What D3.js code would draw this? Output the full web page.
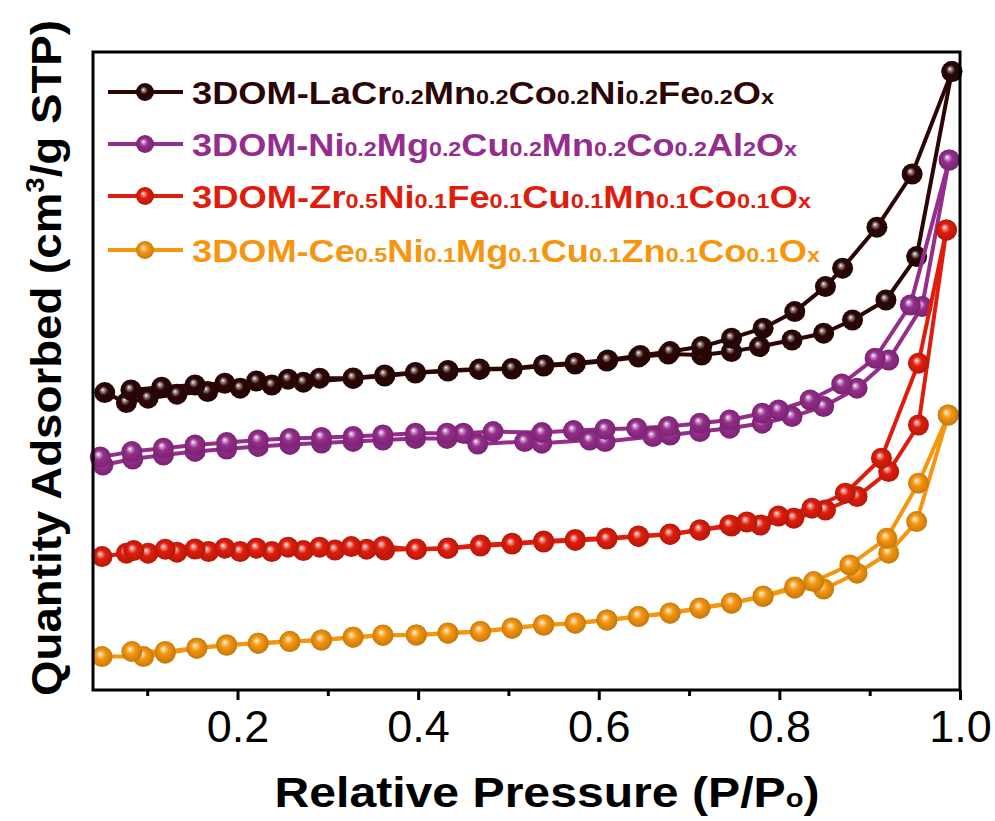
<!DOCTYPE html>
<html>
<head>
<meta charset="utf-8">
<script src="https://cdn.jsdelivr.net/npm/d3@7"></script>
<style>
  html, body { margin: 0; padding: 0; background: #fff; }
  #chart { width: 995px; height: 821px; }
  text { font-family: "Liberation Sans", Arial, sans-serif; }
</style>
</head>
<body>
<div id="chart"></div>
<script>
// legend labels: "|" separates normal text and subscript parts (odd parts are subscripts)
const seriesNames = [
  "3DOM-LaCr|0.2|Mn|0.2|Co|0.2|Ni|0.2|Fe|0.2|O|x",
  "3DOM-Ni|0.2|Mg|0.2|Cu|0.2|Mn|0.2|Co|0.2|Al|2|O|x",
  "3DOM-Zr|0.5|Ni|0.1|Fe|0.1|Cu|0.1|Mn|0.1|Co|0.1|O|x",
  "3DOM-Ce|0.5|Ni|0.1|Mg|0.1|Cu|0.1|Zn|0.1|Co|0.1|O|x"
];
const seriesColors = ["#2c0606", "#952d8c", "#e01d0c", "#f6960e"];
const majorTicks = [0.2, 0.4, 0.6, 0.8, 1.0];
const minorTicks = [0.1, 0.3, 0.5, 0.7, 0.9];

// [P/P0, quantity adsorbed (arb. offset units)]
const laAds = [[0.053,148.7],[0.077,143.7],[0.101,145.9],[0.133,147.9],[0.167,149.2],[0.203,150.9],[0.238,152.5],[0.273,153.9],[0.328,155.8],[0.363,157],[0.397,158.5],[0.433,159.5],[0.468,160.3],[0.504,160.5],[0.539,162],[0.574,163],[0.609,164.5],[0.644,166.5],[0.677,168],[0.714,167.5],[0.747,169.2],[0.778,171.7],[0.814,175],[0.849,178.4],[0.881,185],[0.918,195],[0.952,216.7],[0.991,309.2]];
const laDes = [[0.991,309.2],[0.947,258],[0.908,231.4],[0.870,210.9],[0.851,201.7],[0.817,189.2],[0.782,180.9],[0.747,175.9],[0.714,171.7],[0.679,169.2],[0.646,167.3],[0.610,165],[0.574,163.5],[0.539,162.5],[0.504,160.8],[0.468,160.5],[0.433,159.8],[0.397,158.8],[0.363,157.5],[0.328,156],[0.291,155.9],[0.256,155.4],[0.221,154.5],[0.186,153.4],[0.153,152.5],[0.116,151.4],[0.082,150]];

const niAds = [[0.051,112.5],[0.084,115.5],[0.118,117.5],[0.153,119.3],[0.188,120.5],[0.223,121.8],[0.258,122.8],[0.293,123.5],[0.328,124.3],[0.361,125],[0.397,125.8],[0.432,125.8],[0.466,123],[0.518,124.2],[0.537,123.4],[0.590,125],[0.607,124.2],[0.660,126.7],[0.679,127.5],[0.712,129.2],[0.745,130.9],[0.781,133.4],[0.814,136.7],[0.849,141.7],[0.886,150.9],[0.921,165],[0.958,191.7],[0.988,265]];
const niDes = [[0.988,265],[0.945,192.5],[0.906,165.9],[0.869,153],[0.834,145],[0.799,140],[0.781,138.4],[0.745,135],[0.712,133.4],[0.677,131.7],[0.642,130.9],[0.607,130.4],[0.572,129.7],[0.537,128.7],[0.483,129.2],[0.450,128.4],[0.432,128.4],[0.397,128.4],[0.361,127.5],[0.328,126.8],[0.293,126.3],[0.258,125.8],[0.223,125],[0.188,123.7],[0.153,122.5],[0.118,120.9],[0.083,119.2],[0.048,116.5]];

const zrAds = [[0.050,66.7],[0.077,68.4],[0.101,68.4],[0.133,68.9],[0.168,69.2],[0.203,69.2],[0.238,69.2],[0.273,69.7],[0.308,70],[0.343,70.4],[0.363,70],[0.398,70.5],[0.433,71],[0.469,72.5],[0.504,73.4],[0.539,74.5],[0.574,75.3],[0.609,76],[0.644,77],[0.679,78],[0.712,80],[0.747,82],[0.779,82.5],[0.816,85.9],[0.851,90],[0.886,96.7],[0.921,109.2],[0.954,132.5],[0.985,230]];
const zrDes = [[0.985,230],[0.954,163.4],[0.913,115.9],[0.873,98.4],[0.836,90.9],[0.799,87],[0.764,84],[0.745,82.5],[0.712,80],[0.679,77.8],[0.644,76.8],[0.609,75.5],[0.574,74.8],[0.539,74],[0.504,73],[0.469,72],[0.433,70.8],[0.398,70.3],[0.361,71.7],[0.326,71.7],[0.291,71.4],[0.256,71.4],[0.221,70.9],[0.186,70.9],[0.153,70.5],[0.120,70.4],[0.085,69.7]];

const ceAds = [[0.050,16.7],[0.096,16.7],[0.120,18.4],[0.155,20.9],[0.188,22.5],[0.223,23.4],[0.258,24.2],[0.293,25],[0.328,26.4],[0.361,27.3],[0.398,27.5],[0.433,28.4],[0.469,29.2],[0.504,30.9],[0.539,32.5],[0.574,33.4],[0.609,35],[0.644,36.7],[0.679,38.4],[0.712,40.9],[0.747,43.4],[0.782,46.7],[0.817,50.9],[0.849,50.5],[0.886,58.4],[0.921,68.4],[0.952,84.2],[0.987,137.5]];
const ceDes = [[0.987,137.5],[0.954,103.4],[0.919,75.9],[0.878,62.5],[0.838,54.2],[0.817,51.5],[0.782,47],[0.747,43.5],[0.712,41],[0.679,38.5],[0.644,36.8],[0.609,35],[0.574,33.5],[0.539,32.5],[0.504,31],[0.469,29.3],[0.433,28.5],[0.398,27.5],[0.361,27.5],[0.328,26.4],[0.293,25],[0.258,24.2],[0.223,23.4],[0.188,22.5],[0.155,20.9],[0.120,19.3],[0.083,19.2]];

const seriesData = [
  { ads: laAds, des: laDes },
  { ads: niAds, des: niDes },
  { ads: zrAds, des: zrDes },
  { ads: ceAds, des: ceDes }
];

function renderIsotherm() {
  const width = 995, height = 821;
  const margin = { top: 52, right: 35, bottom: 131, left: 93 };
  const innerW = width - margin.left - margin.right;
  const innerH = height - margin.top - margin.bottom;

  const svg = d3.select("#chart").append("svg")
    .attr("width", width).attr("height", height);

  const defs = svg.append("defs");
  seriesColors.forEach((c, i) => {
    const grad = defs.append("radialGradient")
      .attr("id", "ball" + i)
      .attr("cx", "50%").attr("cy", "50%").attr("r", "55%")
      .attr("fx", "40%").attr("fy", "36%");
    grad.append("stop").attr("offset", "0%").attr("stop-color", "#ffffff");
    grad.append("stop").attr("offset", "14%").attr("stop-color", d3.interpolateRgb("#ffffff", c)(0.45));
    grad.append("stop").attr("offset", "40%").attr("stop-color", c);
    grad.append("stop").attr("offset", "100%").attr("stop-color", d3.color(c).darker(0.7));
  });

  const g = svg.append("g").attr("transform", `translate(${margin.left},${margin.top})`);

  const x = d3.scaleLinear().domain([0.04, 1.0]).range([0, 867]);
  const y = d3.scaleLinear().domain([0, 319]).range([innerH, 0]);

  // x axis: major + minor ticks, outward
  g.append("g")
    .attr("transform", `translate(0,${innerH})`)
    .call(d3.axisBottom(x).tickValues(minorTicks).tickSize(6).tickFormat(""))
    .call(a => a.select(".domain").remove())
    .call(a => a.selectAll("line").attr("stroke", "#000").attr("stroke-width", 3));

  const xAxis = g.append("g")
    .attr("transform", `translate(0,${innerH})`)
    .call(d3.axisBottom(x).tickValues(majorTicks).tickSize(10).tickPadding(10).tickFormat(d3.format(".1f")));
  xAxis.select(".domain").remove();
  xAxis.selectAll("line").attr("stroke", "#000").attr("stroke-width", 3);
  xAxis.selectAll("text")
    .attr("fill", "#000")
    .style("font-family", "'Liberation Sans', Arial, sans-serif")
    .style("font-size", "45px")
    .attr("dy", "0.72em");

  const line = d3.line().x(d => x(d[0])).y(d => y(d[1]));

  seriesData.forEach((s, i) => {
    const sg = g.append("g");
    [s.ads, s.des].forEach(branch => {
      sg.append("path")
        .datum(branch)
        .attr("fill", "none")
        .attr("stroke", seriesColors[i])
        .attr("stroke-width", 4)
        .attr("stroke-linejoin", "round")
        .attr("d", line);
    });
    [s.ads, s.des].forEach(branch => {
      sg.selectAll(null)
        .data(branch)
        .enter()
        .append("circle")
        .attr("cx", d => x(d[0]))
        .attr("cy", d => y(d[1]))
        .attr("r", 10.5)
        .attr("fill", `url(#ball${i})`);
    });
  });

  // frame
  g.append("rect")
    .attr("x", 0).attr("y", 0)
    .attr("width", 867).attr("height", innerH)
    .attr("fill", "none")
    .attr("stroke", "#000")
    .attr("stroke-width", 3);

  // legend
  const legendRows = [92, 144, 196, 250];
  const legendEnds = [774, 797, 811, 820];
  seriesNames.forEach((name, i) => {
    const ly = legendRows[i] - margin.top;
    const lg = g.append("g");
    lg.append("line")
      .attr("x1", 108 - margin.left).attr("x2", 183 - margin.left)
      .attr("y1", ly).attr("y2", ly)
      .attr("stroke", seriesColors[i]).attr("stroke-width", 4);
    lg.append("circle")
      .attr("cx", 145 - margin.left).attr("cy", ly).attr("r", 9)
      .attr("fill", `url(#ball${i})`);
    const t = lg.append("text")
      .attr("x", 192 - margin.left).attr("y", ly + 12)
      .attr("fill", seriesColors[i])
      .style("font-weight", "bold")
      .style("font-size", "31px");
    name.split("|").forEach((part, k) => {
      t.append("tspan")
        .style("font-size", k % 2 ? "20px" : "31px")
        .text(part);
    });
    t.attr("textLength", legendEnds[i] - 192).attr("lengthAdjust", "spacingAndGlyphs");
  });

  // axis titles
  const xt = svg.append("text")
    .attr("x", 547).attr("y", 807)
    .attr("text-anchor", "middle")
    .style("font-weight", "bold").style("font-size", "43px")
    .attr("fill", "#000");
  xt.append("tspan").text("Relative Pressure (P/P");
  xt.append("tspan").style("font-size", "26px").text("o");
  xt.append("tspan").text(")");
  xt.attr("textLength", 545).attr("lengthAdjust", "spacingAndGlyphs");

  const yt = svg.append("text")
    .attr("transform", "translate(61,358) rotate(-90)")
    .attr("text-anchor", "middle")
    .style("font-weight", "bold").style("font-size", "43px")
    .attr("fill", "#000");
  yt.append("tspan").text("Quantity Adsorbed (cm");
  yt.append("tspan").style("font-size", "26px").attr("dy", -17).text("3");
  yt.append("tspan").attr("dy", 17).text("/g STP)");
  yt.attr("textLength", 676).attr("lengthAdjust", "spacingAndGlyphs");
}

renderIsotherm();
</script>
</body>
</html>
